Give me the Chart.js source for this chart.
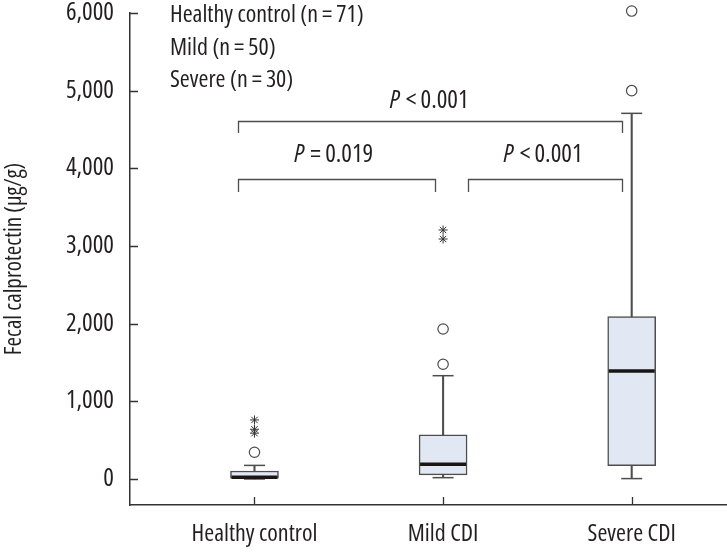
<!DOCTYPE html>
<html>
<head>
<meta charset="utf-8">
<script src="https://cdn.jsdelivr.net/npm/chart.js@4.4.1/dist/chart.umd.min.js"></script>
<style>
  html, body { margin: 0; padding: 0; background: #ffffff; }
  #c { display: block; }
</style>
</head>
<body>
<canvas id="c" width="727" height="552"></canvas>
<script>
// ---------- data ----------
const categories   = ['Healthy control', 'Mild CDI', 'Severe CDI'];
const positions    = [1, 2, 3];
const whiskerLow   = [0, 17, 5];
const q1           = [10, 52, 171];
const median       = [22, 189, 1390];
const q3           = [103, 567, 2090];
const whiskerHigh  = [175, 1330, 4708];
const circleOutliers = [[344], [1477, 1931], [5000, 6025]];
const starOutliers   = [[590, 640, 760], [3090, 3206], []];
const yTickValues  = [0, 1000, 2000, 3000, 4000, 5000, 6000];
const groupNotes   = ['Healthy control (n\u2009=\u200971)', 'Mild (n\u2009=\u200950)', 'Severe (n\u2009=\u200930)'];
// brackets: x range in category units, bar level / drop level / text baseline in µg/g
const comparisons = [
  { from: 0.91, to: 2.947, level: 4610, drop: 4455, textX: 1.926, textY: 4777, sign: '<', p: '0.001' },
  { from: 0.91, to: 1.958, level: 3863, drop: 3696, textX: 1.420, textY: 4082, sign: '=', p: '0.019' },
  { from: 2.132, to: 2.947, level: 3863, drop: 3696, textX: 2.530, textY: 4082, sign: '<', p: '0.001' }
];

// ---------- styling ----------
const FAMILY = '"Open Sans", "DejaVu Sans Condensed", sans-serif';
const WEIGHT = '500 condensed';
const FS = 24;
const PFS = 25;
const TEXT = '#231f20';
const LINE = '#4d4d4d';
const BOX_FILL = '#e1e7f3';
const fontStr = (style, size) => (style ? style + ' ' : '') + WEIGHT + ' ' + (size || FS) + 'px ' + FAMILY;

const boxData = positions.map((p, i) => ({ x: p, y: [q1[i], q3[i]] }));
const whiskerData = [];
positions.forEach((p, i) => {
  whiskerData.push({ x: p, y: [q3[i], whiskerHigh[i]] });
  whiskerData.push({ x: p, y: [whiskerLow[i], q1[i]] });
});
const capData = [];
positions.forEach((p, i) => {
  capData.push({ x: p, y: whiskerHigh[i] });
  capData.push({ x: p, y: whiskerLow[i] });
});
const medianData = positions.map((p, i) => ({ x: p, y: median[i] }));
const circleData = [];
circleOutliers.forEach((arr, i) => arr.forEach(v => circleData.push({ x: positions[i], y: v })));
const starData = [];
starOutliers.forEach((arr, i) => arr.forEach(v => starData.push({ x: positions[i], y: v })));

const annotate = {
  id: 'annotate',
  afterDraw(chart) {
    const { ctx, scales: { x, y } } = chart;
    const area = chart.chartArea;
    ctx.save();
    // inward tick marks
    ctx.strokeStyle = '#333';
    ctx.lineWidth = 1.3;
    ctx.beginPath();
    y.ticks.forEach(t => {
      const py = Math.round(y.getPixelForValue(t.value)) + 0.5;
      ctx.moveTo(area.left, py); ctx.lineTo(area.left + 8, py);
    });
    x.ticks.forEach(t => {
      const px = Math.round(x.getPixelForValue(t.value)) + 0.5;
      ctx.moveTo(px, area.bottom); ctx.lineTo(px, area.bottom - 8);
    });
    ctx.stroke();

    // comparison brackets
    ctx.strokeStyle = LINE;
    ctx.lineWidth = 1.3;
    comparisons.forEach(c => {
      const x1 = Math.round(x.getPixelForValue(c.from)) + 0.5;
      const x2 = Math.round(x.getPixelForValue(c.to)) + 0.5;
      const yl = Math.round(y.getPixelForValue(c.level)) + 0.5;
      const yd = y.getPixelForValue(c.drop);
      ctx.beginPath();
      ctx.moveTo(x1, yd); ctx.lineTo(x1, yl); ctx.lineTo(x2, yl); ctx.lineTo(x2, yd);
      ctx.stroke();
      const rest = '\u2009' + c.sign + '\u2009' + c.p;
      ctx.font = fontStr('italic', PFS); const wP = ctx.measureText('P').width;
      ctx.font = fontStr('', PFS); const wR = ctx.measureText(rest).width;
      const cx = x.getPixelForValue(c.textX);
      const by = y.getPixelForValue(c.textY);
      const sx = cx - (wP + wR + 2) / 2;
      ctx.fillStyle = TEXT;
      ctx.textBaseline = 'alphabetic';
      ctx.textAlign = 'left';
      ctx.font = fontStr('italic', PFS); ctx.fillText('P', sx, by);
      ctx.font = fontStr('', PFS); ctx.fillText(rest, sx + wP + 2, by);
    });

    // group notes
    ctx.font = fontStr('');
    ctx.fillStyle = TEXT;
    ctx.textAlign = 'left';
    ctx.textBaseline = 'alphabetic';
    groupNotes.forEach((t, i) => {
      ctx.fillText(t, area.left + 40, area.top + 9 + i * 32.5);
    });
    ctx.restore();
  }
};

new Chart(document.getElementById('c'), {
  type: 'bar',
  data: {
    datasets: [
      { type: 'bar', data: whiskerData, grouped: false, barThickness: 1.4, backgroundColor: LINE, borderWidth: 0, order: 5 },
      { type: 'bar', data: boxData, grouped: false, barThickness: 48, backgroundColor: BOX_FILL, borderColor: LINE, borderWidth: 1.5, borderSkipped: false, order: 4 },
      { type: 'scatter', data: capData, pointStyle: 'line', radius: 10.5, borderColor: LINE, borderWidth: 1.5, order: 3, clip: false },
      { type: 'scatter', data: medianData, pointStyle: 'line', radius: 23, borderColor: '#1a1414', borderWidth: 3.5, order: 2, clip: false },
      { type: 'scatter', data: circleData, pointStyle: 'circle', radius: 5.2, backgroundColor: '#ffffff', borderColor: LINE, borderWidth: 1.2, order: 1, clip: false },
      { type: 'scatter', data: starData, pointStyle: 'star', radius: 4.5, borderColor: '#333', borderWidth: 1, order: 1, clip: false }
    ]
  },
  options: {
    responsive: false,
    devicePixelRatio: 1,
    animation: false,
    events: [],
    layout: { autoPadding: false, padding: { top: 13, right: 1, left: 0, bottom: 0 } },
    plugins: { legend: { display: false }, tooltip: { enabled: false } },
    scales: {
      x: {
        type: 'linear',
        min: 0.34,
        max: 3.5,
        offset: false,
        grid: { display: false, drawTicks: false },
        border: { display: true, color: '#333', width: 1.5 },
        afterBuildTicks: s => { s.ticks = positions.map(v => ({ value: v })); },
        afterFit: s => { s.height = 47; s.paddingLeft = 0; s.paddingRight = 0; },
        ticks: {
          padding: 15,
          maxRotation: 0,
          autoSkip: false,
          color: TEXT,
          font: { family: FAMILY, size: FS, weight: WEIGHT },
          callback: v => categories[positions.indexOf(v)]
        }
      },
      y: {
        type: 'linear',
        min: -335,
        max: 6000,
        grid: { display: false, drawTicks: false },
        border: { display: true, color: '#333', width: 1.5 },
        afterBuildTicks: s => { s.ticks = yTickValues.map(v => ({ value: v })); },
        afterFit: s => { s.width = 130; s.paddingTop = 0; s.paddingBottom = 0; },
        ticks: {
          padding: 16,
          color: TEXT,
          font: { family: FAMILY, size: 25, weight: WEIGHT },
          callback: v => v.toLocaleString('en-US')
        },
        title: {
          display: true,
          text: 'Fecal calprotectin (μg/g)',
          color: TEXT,
          font: { family: FAMILY, size: 23, weight: WEIGHT },
          padding: { top: 1, bottom: 0 }
        }
      }
    }
  },
  plugins: [annotate]
});
</script>
</body>
</html>
